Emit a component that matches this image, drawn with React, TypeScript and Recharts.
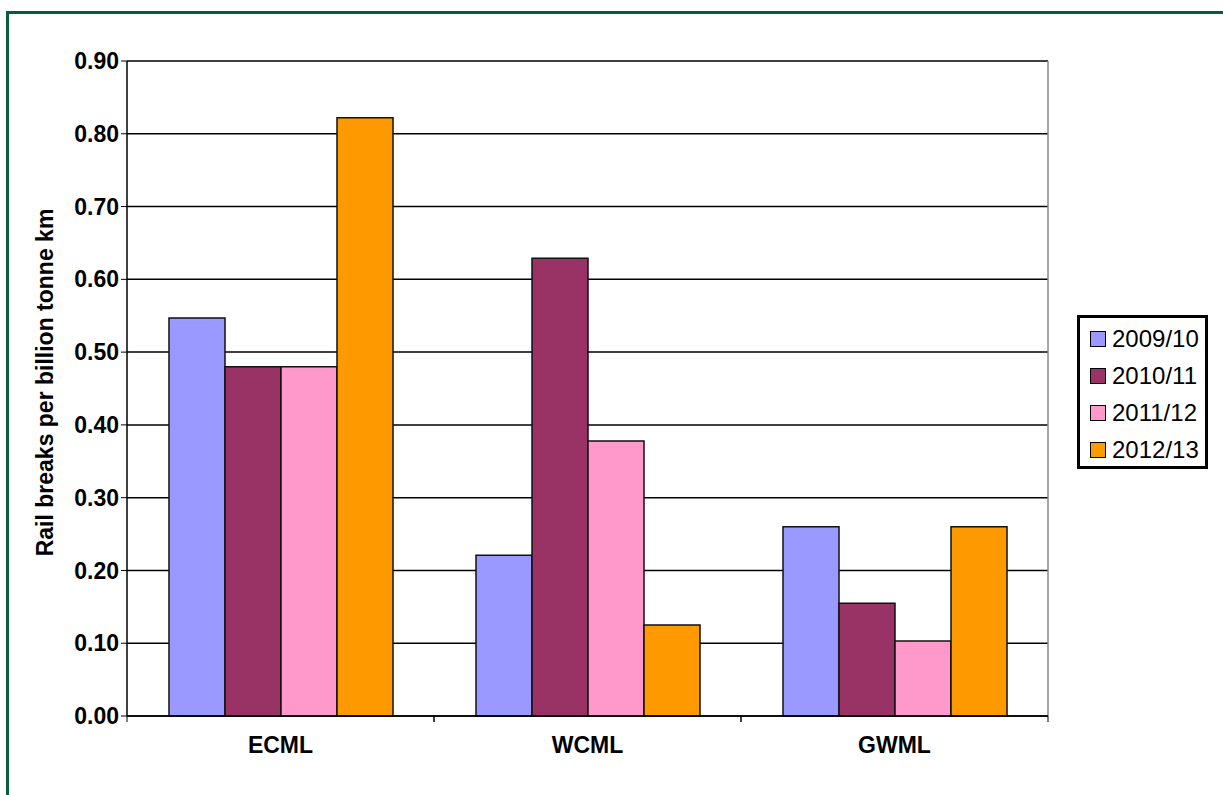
import React from 'react';
import { BarChart, Bar, XAxis, YAxis, CartesianGrid } from 'recharts';

const lines = ['ECML', 'WCML', 'GWML'];
const years = ['2009/10', '2010/11', '2011/12', '2012/13'];
const colors = ['#9999FF', '#993366', '#FF99CC', '#FF9900'];
const v0910 = [0.547, 0.221, 0.26];
const v1011 = [0.48, 0.629, 0.155];
const v1112 = [0.48, 0.378, 0.103];
const v1213 = [0.822, 0.125, 0.26];
const yTicks = [0, 0.1, 0.2, 0.3, 0.4, 0.5, 0.6, 0.7, 0.8, 0.9];

const seriesValues = [v0910, v1011, v1112, v1213];
const data = lines.map((name, i) => {
  const row: any = { name };
  years.forEach((y, j) => { row[y] = seriesValues[j][i]; });
  return row;
});

const font = 'Arial, "Liberation Sans", sans-serif';

function XTick(props: any) {
  const { x, y, payload } = props;
  const off = payload.offset || 0;
  return (
    <g>
      <line x1={x - off} x2={x - off} y1={y - 8} y2={y - 2} stroke="#000" />
      <line x1={x + off} x2={x + off} y1={y - 8} y2={y - 2} stroke="#000" />
      <text x={x} y={y + 21} textAnchor="middle" dominantBaseline="central"
        style={{ fontFamily: font, fontSize: 23, fontWeight: 'bold', fill: '#000' }}>
        {payload.value}
      </text>
    </g>
  );
}

function YLabel(props: any) {
  const vb = props.viewBox || { x: 0, y: 0, width: 127, height: 655 };
  const cx = vb.x + 45;
  const cy = vb.y + vb.height / 2 - 6;
  return (
    <text x={cx} y={cy} transform={`rotate(-90 ${cx} ${cy})`} textAnchor="middle" dominantBaseline="central"
      style={{ fontFamily: font, fontSize: 23, fontWeight: 'bold', fill: '#000' }}>
      Rail breaks per billion tonne km
    </text>
  );
}

export default function App() {
  return (
    <div style={{ position: 'absolute', left: 0, top: 0, width: 1223, height: 795, overflow: 'hidden', background: '#fff' }}>
      <div style={{ position: 'absolute', left: 6, top: 11, width: 1400, height: 1000, borderTop: '3px solid #0b5e3b', borderLeft: '3px solid #0b5e3b' }} />
      <div style={{ position: 'absolute', left: 0, top: 0 }}>
        <BarChart width={1223} height={795} data={data} barGap={0} barCategoryGap={42}
          margin={{ top: 61, right: 175, bottom: 0, left: 0 }}>
          <CartesianGrid vertical={false} stroke="#000" strokeWidth={1.5} />
          <CartesianGrid horizontal={false} stroke="#888" strokeWidth={1.5}
            verticalCoordinatesGenerator={({ offset }: any) => [offset.left + offset.width]} />
          <XAxis dataKey="name" height={79} axisLine={{ stroke: '#000', strokeWidth: 1.5 }}
            tickLine={false} tick={<XTick />} interval={0} />
          <YAxis width={127} domain={[0, 0.9]} ticks={yTicks} interval={0}
            tickFormatter={(v: number) => v.toFixed(2)}
            axisLine={{ stroke: '#000', strokeWidth: 1.5 }} tickLine={{ stroke: '#000' }} tickSize={6}
            tick={{ fill: '#000', fontFamily: font, fontSize: 23, fontWeight: 'bold' }}
            label={<YLabel />} />
          {years.map((y, i) => (
            <Bar key={y} dataKey={y} fill={colors[i]} stroke="#111" strokeWidth={1.5} isAnimationActive={false} />
          ))}
        </BarChart>
      </div>
      <div style={{ position: 'absolute', left: 1077, top: 315, width: 125, height: 146, border: '3px solid #000', background: '#fff', paddingTop: 2, fontFamily: font }}>
        {years.map((y, i) => (
          <div key={y} style={{ height: 37, display: 'flex', alignItems: 'center', paddingLeft: 10 }}>
            <span style={{ display: 'inline-block', width: 14, height: 14, background: colors[i], border: '1.5px solid #000', marginRight: 6, flexShrink: 0 }} />
            <span style={{ fontSize: 24, color: '#000', whiteSpace: 'nowrap' }}>{y}</span>
          </div>
        ))}
      </div>
    </div>
  );
}
